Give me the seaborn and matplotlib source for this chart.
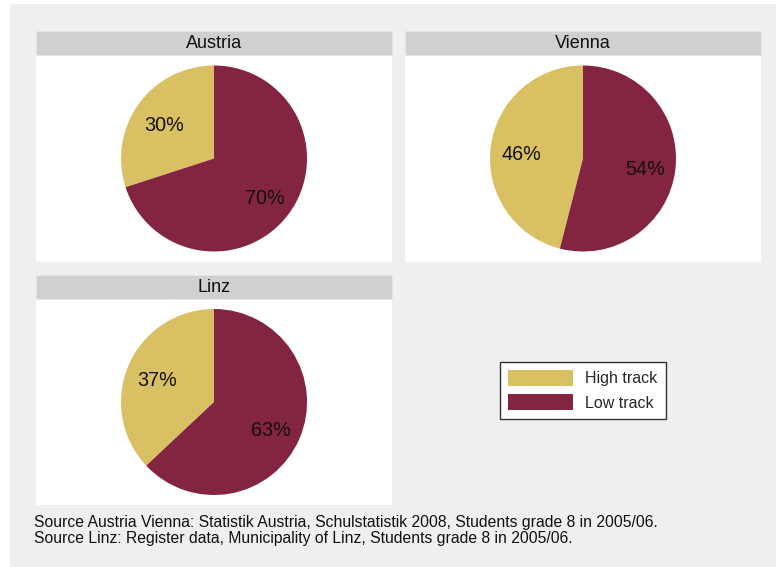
import matplotlib
matplotlib.use("Agg")
import matplotlib.pyplot as plt
from matplotlib.patches import Rectangle, Patch
import seaborn as sns

regions = ["Austria", "Vienna", "Linz"]
tracks = ["High track", "Low track"]
high_share = [30, 46, 37]
low_share = [70, 54, 63]
source_lines = [
    "Source Austria Vienna: Statistik Austria, Schulstatistik 2008, Students grade 8 in 2005/06.",
    "Source Linz: Register data, Municipality of Linz, Students grade 8 in 2005/06.",
]

sns.set_theme(style="white")
plt.rcParams["font.family"] = ["Liberation Sans", "DejaVu Sans"]
colors = ["#d9c062", "#832440"]
sns.set_palette(colors)

W, H = 776, 567
fig = plt.figure(figsize=(W / 100, H / 100), dpi=100, facecolor="white")

def fx(x):
    return x / W

def fy(y):
    return 1 - y / H

# outer gray background
fig.patches.append(Rectangle((fx(10), 0), 1 - fx(10), fy(4), transform=fig.transFigure,
                             facecolor="#efefef", edgecolor="none", zorder=-10))

panels = [  # (left, strip_top, strip_bottom, panel_bottom, right)
    (36, 31, 55, 262, 392),
    (405, 31, 55, 262, 761),
    (36, 275, 299, 505, 392),
]
R = 93.0
for i, (l, st, sb, pb, r) in enumerate(panels):
    # white panel
    fig.patches.append(Rectangle((fx(l), fy(pb)), fx(r) - fx(l), fy(sb) - fy(pb),
                                 transform=fig.transFigure, facecolor="white",
                                 edgecolor="none", zorder=-6))
    # strip
    fig.patches.append(Rectangle((fx(l), fy(sb)), fx(r) - fx(l), fy(st) - fy(sb),
                                 transform=fig.transFigure, facecolor="#d0d0d0",
                                 edgecolor="#dde6ee", linewidth=0.8, zorder=-5))
    fig.text((fx(l) + fx(r)) / 2, (fy(st) + fy(sb)) / 2 - 0.5 / H, regions[i], ha="center",
             va="center", fontsize=13, color="#111111")
    ax = fig.add_axes([fx(l), fy(pb), fx(r) - fx(l), fy(sb) - fy(pb)])
    _, _, autotexts = ax.pie([high_share[i], low_share[i]], colors=colors, startangle=90,
                             counterclock=True, autopct="%.0f%%", pctdistance=0.67, radius=1,
                             wedgeprops=dict(linewidth=0),
                             textprops=dict(fontsize=14.2, color="#111111"))
    for t in autotexts:
        x, y = t.get_position()
        t.set_position((x, y - 3.5 / R))
    wpx = r - l
    hpx = pb - sb
    ax.set_xlim(-wpx / 2 / R, wpx / 2 / R)
    ax.set_ylim(-hpx / 2 / R, hpx / 2 / R)
    ax.set_aspect("auto")
    ax.set_frame_on(False)
    ax.set_xticks([])
    ax.set_yticks([])

handles = [Patch(facecolor=c, edgecolor="none") for c in colors]
leg = fig.legend(handles, tracks, loc="upper left", bbox_to_anchor=(fx(500), fy(362)),
                 frameon=True, fancybox=False, fontsize=11.5, handlelength=4.1,
                 handleheight=1.15, handletextpad=0.75, labelspacing=0.5,
                 borderpad=0.5, borderaxespad=0)
leg.get_frame().set_edgecolor("#333333")
leg.get_frame().set_linewidth(1.0)
leg.get_frame().set_facecolor("white")
leg.get_frame().set_alpha(1)

fig.text(fx(34), fy(522), source_lines[0], ha="left", va="center", fontsize=11.3, color="#111111")
fig.text(fx(34), fy(538), source_lines[1], ha="left", va="center", fontsize=11.3, color="#111111")

fig.savefig("out.png", dpi=100, facecolor="white")
